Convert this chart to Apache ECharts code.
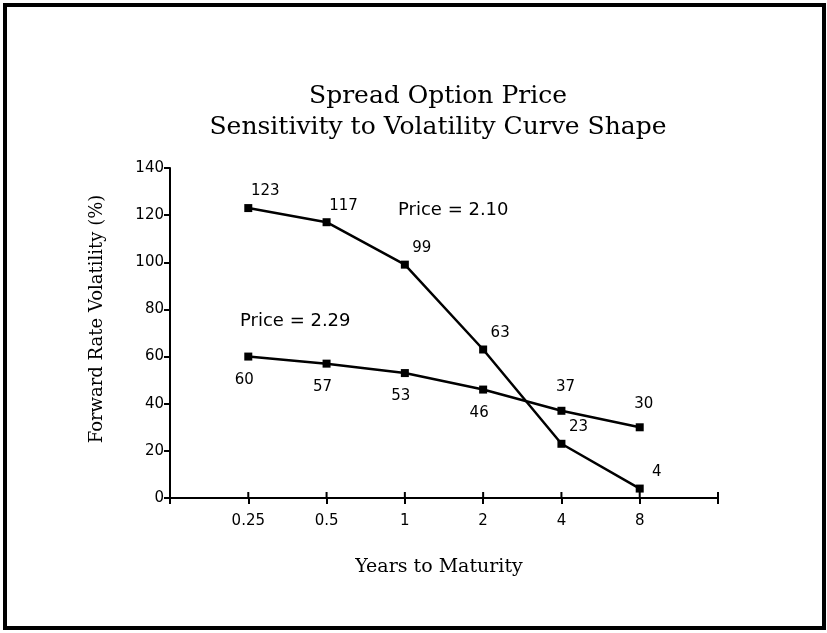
<!DOCTYPE html>
<html>
<head>
<meta charset="utf-8">
<script src="https://cdn.jsdelivr.net/npm/echarts@6/dist/echarts.min.js"></script>
<style>
  html, body { margin: 0; padding: 0; background: #fff; }
  #chart { width: 827px; height: 633px; }
</style>
</head>
<body>
<div id="chart"></div>
<script>
// maturities (years), shown as evenly spaced categories
var maturities = ['0.25', '0.5', '1', '2', '4', '8'];
// steep volatility curve (price = 2.10)
var steepVol = [123, 117, 99, 63, 23, 4];
// flat volatility curve (price = 2.29)
var flatVol = [60, 57, 53, 46, 37, 30];
var yTicks = [0, 20, 40, 60, 80, 100, 120, 140];

var chart = echarts.init(document.getElementById('chart'));

var labelFont = { fontFamily: 'DejaVu Sans', fontSize: 15, color: '#000' };
var serif = 'DejaVu Serif';

// x positions 1..6 inside an axis that runs 0..7
function toPoints(vals) {
  return vals.map(function (v, i) { return [i + 1, v]; });
}

var flatData = toPoints(flatVol).map(function (p, i) {
  return { value: p, label: { position: i < 4 ? 'bottom' : 'top', offset: i < 4 ? [-4, 4] : [4, -4] } };
});

var option = {
  backgroundColor: '#fff',
  animation: false,
  grid: { left: 170, right: 109, top: 168, bottom: 135 },
  xAxis: {
    type: 'value',
    min: 0,
    max: 7,
    interval: 1,
    name: 'Years to Maturity',
    nameLocation: 'middle',
    nameGap: 60,
    nameTextStyle: { fontFamily: serif, fontSize: 19, color: '#000', padding: [0, 10, 0, 0] },
    axisLine: { lineStyle: { color: '#000', width: 2 } },
    axisTick: { show: true, length: 6, inside: false, lineStyle: { color: '#000', width: 2 } },
    axisLabel: {
      margin: 16,
      fontFamily: 'DejaVu Sans', fontSize: 15, color: '#000',
      formatter: function (v) { return maturities[v - 1] || ''; }
    },
    splitLine: { show: false }
  },
  yAxis: {
    type: 'value',
    min: yTicks[0],
    max: yTicks[yTicks.length - 1],
    interval: 20,
    name: 'Forward Rate Volatility (%)',
    nameLocation: 'middle',
    nameRotate: 90,
    nameGap: 64,
    nameTextStyle: { fontFamily: serif, fontSize: 18, color: '#000', padding: [0, 0, 0, 28] },
    axisLine: { show: true, lineStyle: { color: '#000', width: 2 } },
    axisTick: { show: true, length: 6, lineStyle: { color: '#000', width: 2 } },
    axisLabel: { margin: 6, fontFamily: 'DejaVu Sans', fontSize: 15, color: '#000' },
    splitLine: { show: false }
  },
  graphic: [
    {
      type: 'rect',
      shape: { x: 5, y: 5, width: 819, height: 623 },
      style: { fill: null, stroke: '#000', lineWidth: 4 },
      silent: true
    },
    {
      type: 'text', x: 438, y: 81,
      style: {
        text: 'Spread Option Price\nSensitivity to Volatility Curve Shape',
        align: 'center', verticalAlign: 'top',
        fontFamily: serif, fontSize: 25, lineHeight: 31, fill: '#000'
      }
    },
    {
      type: 'text', left: 398, top: 201,
      style: { text: 'Price = 2.10', fontFamily: 'DejaVu Sans', fontSize: 18, fill: '#000' }
    },
    {
      type: 'text', left: 240, top: 312,
      style: { text: 'Price = 2.29', fontFamily: 'DejaVu Sans', fontSize: 18, fill: '#000' }
    }
  ],
  series: [
    {
      name: 'Price = 2.10',
      type: 'line',
      data: toPoints(steepVol),
      symbol: 'rect',
      symbolSize: 8,
      lineStyle: { color: '#000', width: 2.5 },
      itemStyle: { color: '#000' },
      label: Object.assign({ show: true, position: 'top', offset: [17, 0],
        formatter: function (p) { return p.value[1]; } }, labelFont)
    },
    {
      name: 'Price = 2.29',
      type: 'line',
      data: flatData,
      symbol: 'rect',
      symbolSize: 8,
      lineStyle: { color: '#000', width: 2.5 },
      itemStyle: { color: '#000' },
      label: Object.assign({ show: true, distance: 8,
        formatter: function (p) { return p.value[1]; } }, labelFont)
    }
  ]
};

chart.setOption(option);

// add the inside halves of the x ticks after layout, from the axis scale
var tickLines = [];
for (var k = 1; k <= 7; k++) {
  var a = chart.convertToPixel({ xAxisIndex: 0, yAxisIndex: 0 }, [k, 0]);
  tickLines.push({
    type: 'line', silent: true,
    shape: { x1: a[0], y1: a[1], x2: a[0], y2: a[1] - 6 },
    style: { stroke: '#000', lineWidth: 2 }
  });
}
chart.setOption({ graphic: option.graphic.concat(tickLines) });
</script>
</body>
</html>
